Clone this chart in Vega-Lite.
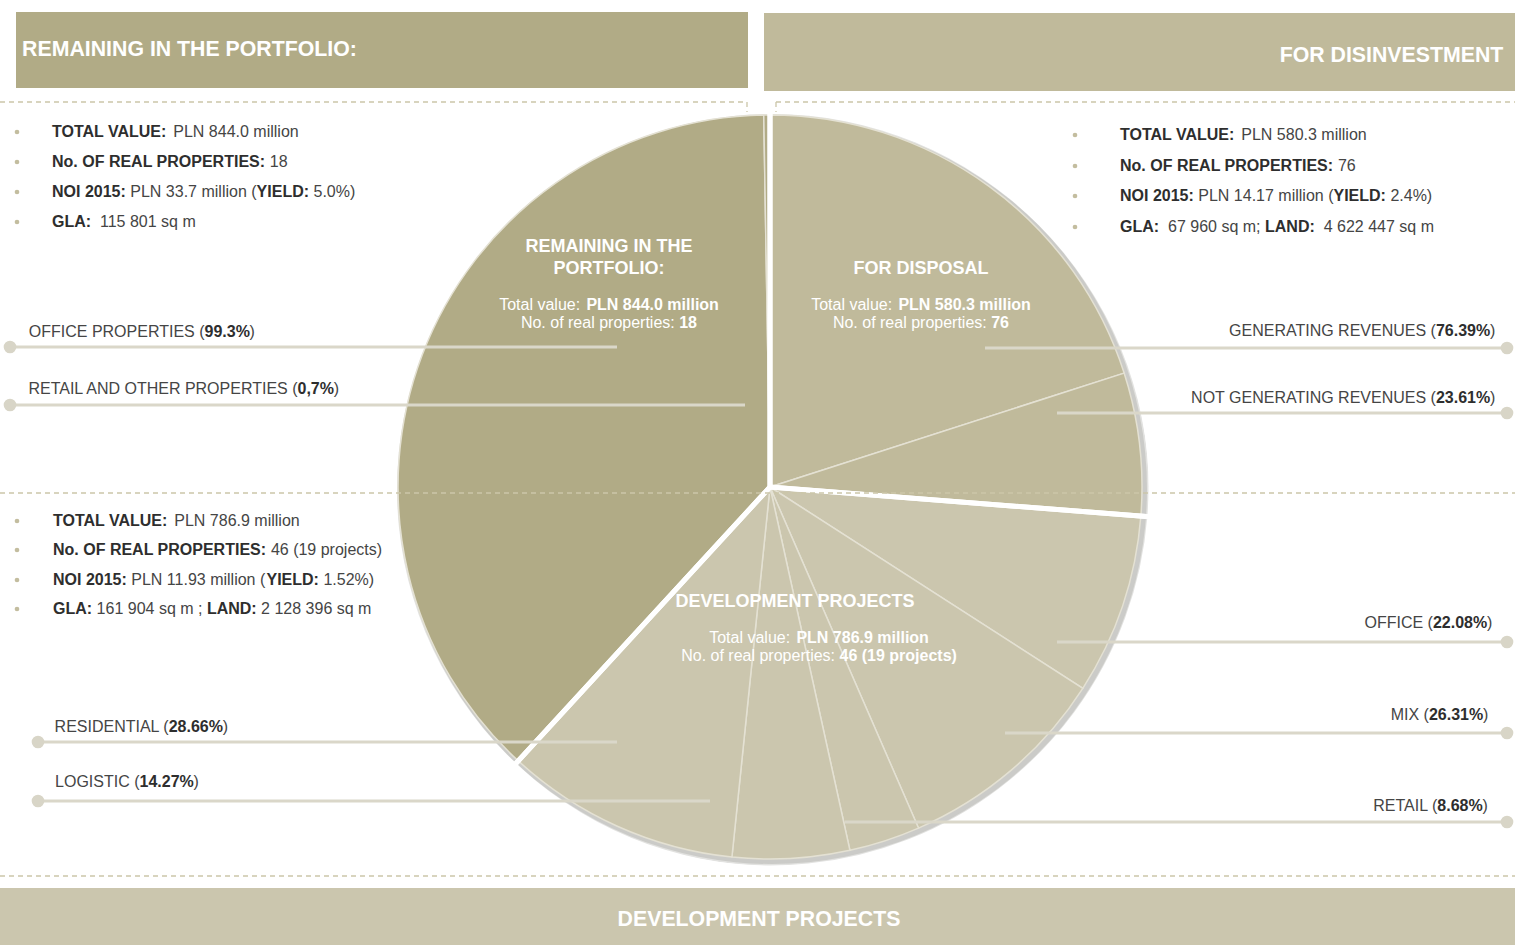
{
  "$schema": "https://vega.github.io/schema/vega-lite/v6.json",
  "width": 1515,
  "height": 945,
  "autosize": {"type": "none"},
  "padding": 0,
  "background": "white",
  "config": {"view": {"stroke": null}, "font": "Liberation Sans", "text": {"font": "Liberation Sans"}},
  "datasets": {
    "bars": [
      {"name": "left", "x": 16, "x2": 748, "y": 12, "y2": 88},
      {"name": "right", "x": 764, "x2": 1515, "y": 13, "y2": 91},
      {"name": "bottom", "x": 0, "x2": 1515, "y": 888, "y2": 945}
    ],
    "dashes": [
      {"x": 0, "x2": 747, "y": 102, "y2": 102},
      {"x": 747, "x2": 747, "y": 102, "y2": 112},
      {"x": 776, "x2": 1515, "y": 102, "y2": 102},
      {"x": 776, "x2": 776, "y": 102, "y2": 112},
      {"x": 0, "x2": 1515, "y": 493, "y2": 493},
      {"x": 0, "x2": 1515, "y": 876, "y2": 876}
    ],
    "shadow": [
      {"cx": 774, "cy": 491, "r": 375},
      {"cx": 772, "cy": 489, "r": 374}
    ],
    "pie": [
      {"group": "For disposal", "cat": "Generating revenues", "pct": 76.39, "value": 443.29, "ord": 1},
      {"group": "For disposal", "cat": "Not generating revenues", "pct": 23.61, "value": 137.01, "ord": 2},
      {"group": "Development projects", "cat": "Office", "pct": 22.08, "value": 173.75, "ord": 3},
      {"group": "Development projects", "cat": "Mix", "pct": 26.31, "value": 207.03, "ord": 4},
      {"group": "Development projects", "cat": "Retail", "pct": 8.68, "value": 68.30, "ord": 5},
      {"group": "Development projects", "cat": "Logistic", "pct": 14.27, "value": 112.29, "ord": 6},
      {"group": "Development projects", "cat": "Residential", "pct": 28.66, "value": 225.53, "ord": 7},
      {"group": "Remaining in the portfolio", "cat": "Office properties", "pct": 99.3, "value": 838.09, "ord": 8},
      {"group": "Remaining in the portfolio", "cat": "Retail and other properties", "pct": 0.7, "value": 5.91, "ord": 9}
    ],
    "leaders": [
      {"x": 10, "x2": 617, "y": 347},
      {"x": 10, "x2": 745, "y": 405},
      {"x": 985, "x2": 1507, "y": 348},
      {"x": 1057, "x2": 1507, "y": 413},
      {"x": 1057, "x2": 1507, "y": 642},
      {"x": 1005, "x2": 1507, "y": 733},
      {"x": 845, "x2": 1507, "y": 822},
      {"x": 38, "x2": 617, "y": 742},
      {"x": 38, "x2": 710, "y": 801}
    ],
    "dots": [
      {"x": 10, "y": 347}, {"x": 10, "y": 405}, {"x": 1507, "y": 348}, {"x": 1507, "y": 413},
      {"x": 1507, "y": 642}, {"x": 1507, "y": 733}, {"x": 1507, "y": 822}, {"x": 38, "y": 742}, {"x": 38, "y": 801}
    ],
    "bullets": [
      {"x": 17, "y": 132}, {"x": 17, "y": 162}, {"x": 17, "y": 192}, {"x": 17, "y": 222},
      {"x": 1075, "y": 135}, {"x": 1075, "y": 166}, {"x": 1075, "y": 196}, {"x": 1075, "y": 227},
      {"x": 17, "y": 521}, {"x": 17, "y": 550}, {"x": 17, "y": 580}, {"x": 17, "y": 609}
    ],
    "texts": [
      {"s": "hd", "t": "REMAINING IN THE PORTFOLIO:", "x": 189.5, "y": 50},
      {"s": "hd", "t": "FOR DISINVESTMENT", "x": 1391.5, "y": 56},
      {"s": "hd", "t": "DEVELOPMENT PROJECTS", "x": 759, "y": 920},
      {"s": "pt", "t": "REMAINING IN THE", "x": 609, "y": 247},
      {"s": "pt", "t": "PORTFOLIO:", "x": 609, "y": 269},
      {"s": "pt", "t": "FOR DISPOSAL", "x": 921, "y": 269},
      {"s": "pt", "t": "DEVELOPMENT PROJECTS", "x": 795, "y": 602},
      {"s": "pn", "t": "Total value:", "x": 499.2, "y": 305},
      {"s": "pn", "t": "No. of real properties:", "x": 520.9, "y": 323},
      {"s": "pn", "t": "Total value:", "x": 811.2, "y": 305},
      {"s": "pn", "t": "No. of real properties:", "x": 832.9, "y": 323},
      {"s": "pn", "t": "Total value:", "x": 709.2, "y": 638},
      {"s": "pn", "t": "No. of real properties:", "x": 681.2, "y": 656},
      {"s": "pb", "t": "PLN 844.0 million", "x": 586.4, "y": 305},
      {"s": "pb", "t": "18", "x": 679.2, "y": 323},
      {"s": "pb", "t": "PLN 580.3 million", "x": 898.4, "y": 305},
      {"s": "pb", "t": "76", "x": 991.2, "y": 323},
      {"s": "pb", "t": "PLN 786.9 million", "x": 796.4, "y": 638},
      {"s": "pb", "t": "46 (19 projects)", "x": 839.5, "y": 656},

      {"s": "db", "t": "TOTAL VALUE:", "x": 52, "y": 132},
      {"s": "dn", "t": "PLN 844.0 million", "x": 173.3, "y": 132},
      {"s": "db", "t": "No. OF REAL PROPERTIES:", "x": 52, "y": 162},
      {"s": "dn", "t": "18", "x": 269.8, "y": 162},
      {"s": "db", "t": "NOI 2015:", "x": 52, "y": 192},
      {"s": "dn", "t": "PLN 33.7 million (", "x": 130.3, "y": 192},
      {"s": "db", "t": "YIELD:", "x": 256.6, "y": 192},
      {"s": "dn", "t": "5.0%)", "x": 313.5, "y": 192},
      {"s": "db", "t": "GLA:", "x": 52, "y": 222},
      {"s": "dn", "t": "115 801 sq m", "x": 100, "y": 222},

      {"s": "db", "t": "TOTAL VALUE:", "x": 1120, "y": 135},
      {"s": "dn", "t": "PLN 580.3 million", "x": 1241.3, "y": 135},
      {"s": "db", "t": "No. OF REAL PROPERTIES:", "x": 1120, "y": 166},
      {"s": "dn", "t": "76", "x": 1337.9, "y": 166},
      {"s": "db", "t": "NOI 2015:", "x": 1120, "y": 196},
      {"s": "dn", "t": "PLN 14.17 million (", "x": 1198.3, "y": 196},
      {"s": "db", "t": "YIELD:", "x": 1333.5, "y": 196},
      {"s": "dn", "t": "2.4%)", "x": 1390.4, "y": 196},
      {"s": "db", "t": "GLA:", "x": 1120, "y": 227},
      {"s": "dn", "t": "67 960 sq m;", "x": 1168, "y": 227},
      {"s": "db", "t": "LAND:", "x": 1265, "y": 227},
      {"s": "dn", "t": "4 622 447 sq m", "x": 1323.7, "y": 227},

      {"s": "db", "t": "TOTAL VALUE:", "x": 53, "y": 521},
      {"s": "dn", "t": "PLN 786.9 million", "x": 174.3, "y": 521},
      {"s": "db", "t": "No. OF REAL PROPERTIES:", "x": 53, "y": 550},
      {"s": "dn", "t": "46 (19 projects)", "x": 270.9, "y": 550},
      {"s": "db", "t": "NOI 2015:", "x": 53, "y": 580},
      {"s": "dn", "t": "PLN 11.93 million (", "x": 131.3, "y": 580},
      {"s": "db", "t": "YIELD:", "x": 266.5, "y": 580},
      {"s": "dn", "t": "1.52%)", "x": 323.4, "y": 580},
      {"s": "db", "t": "GLA:", "x": 53, "y": 609},
      {"s": "dn", "t": "161 904 sq m ;", "x": 96.6, "y": 609},
      {"s": "db", "t": "LAND:", "x": 206.9, "y": 609},
      {"s": "dn", "t": "2 128 396 sq m", "x": 261.1, "y": 609},

      {"s": "dnr", "t": "OFFICE PROPERTIES (", "x": 204.5, "y": 332},
      {"s": "db", "t": "99.3%", "x": 204.5, "y": 332},
      {"s": "dn", "t": ")", "x": 249.6, "y": 332},
      {"s": "dnr", "t": "RETAIL AND OTHER PROPERTIES (", "x": 297.5, "y": 389},
      {"s": "db", "t": "0,7%", "x": 297.5, "y": 389},
      {"s": "dn", "t": ")", "x": 333.7, "y": 389},
      {"s": "dnr", "t": "GENERATING REVENUES (", "x": 1435.9, "y": 331},
      {"s": "db", "t": "76.39%", "x": 1435.9, "y": 331},
      {"s": "dn", "t": ")", "x": 1489.9, "y": 331},
      {"s": "dnr", "t": "NOT GENERATING REVENUES (", "x": 1435.9, "y": 398},
      {"s": "db", "t": "23.61%", "x": 1435.9, "y": 398},
      {"s": "dn", "t": ")", "x": 1489.9, "y": 398},
      {"s": "dnr", "t": "OFFICE (", "x": 1432.9, "y": 623},
      {"s": "db", "t": "22.08%", "x": 1432.9, "y": 623},
      {"s": "dn", "t": ")", "x": 1486.9, "y": 623},
      {"s": "dnr", "t": "MIX (", "x": 1428.9, "y": 715},
      {"s": "db", "t": "26.31%", "x": 1428.9, "y": 715},
      {"s": "dn", "t": ")", "x": 1482.9, "y": 715},
      {"s": "dnr", "t": "RETAIL (", "x": 1437.3, "y": 806},
      {"s": "db", "t": "8.68%", "x": 1437.3, "y": 806},
      {"s": "dn", "t": ")", "x": 1482.4, "y": 806},
      {"s": "dnr", "t": "RESIDENTIAL (", "x": 168.7, "y": 727},
      {"s": "db", "t": "28.66%", "x": 168.7, "y": 727},
      {"s": "dn", "t": ")", "x": 222.7, "y": 727},
      {"s": "dnr", "t": "LOGISTIC (", "x": 139.5, "y": 782},
      {"s": "db", "t": "14.27%", "x": 139.5, "y": 782},
      {"s": "dn", "t": ")", "x": 193.5, "y": 782}
    ]
  },
  "layer": [
    {
      "data": {"name": "bars"},
      "mark": {"type": "rect"},
      "encoding": {
        "x": {"field": "x", "type": "quantitative", "scale": {"domain": [0, 1515], "nice": false}, "axis": null},
        "x2": {"field": "x2"},
        "y": {"field": "y", "type": "quantitative", "scale": {"domain": [0, 945], "nice": false, "reverse": true}, "axis": null},
        "y2": {"field": "y2"},
        "color": {"field": "name", "type": "nominal", "scale": {"domain": ["left", "right", "bottom"], "range": ["#b1ab86", "#c0ba9b", "#cbc6ae"]}, "legend": null}
      }
    },
    {
      "data": {"name": "shadow"},
      "mark": {"type": "arc", "outerRadius": 375, "theta": 0, "theta2": 6.2832, "color": "#7c7c74", "opacity": 0.22},
      "encoding": {
        "x": {"field": "cx", "type": "quantitative", "scale": {"domain": [0, 1515], "nice": false}, "axis": null},
        "y": {"field": "cy", "type": "quantitative", "scale": {"domain": [0, 945], "nice": false, "reverse": true}, "axis": null}
      }
    },
    {
      "data": {"name": "pie"},
      "mark": {"type": "arc", "outerRadius": 372, "stroke": "#e4e1d3", "strokeWidth": 1.5},
      "encoding": {
        "x": {"datum": 770, "type": "quantitative", "scale": {"domain": [0, 1515], "nice": false}, "axis": null},
        "y": {"datum": 487, "type": "quantitative", "scale": {"domain": [0, 945], "nice": false, "reverse": true}, "axis": null},
        "theta": {"field": "value", "type": "quantitative", "stack": true},
        "order": {"field": "ord", "type": "quantitative"},
        "color": {"field": "group", "type": "nominal", "scale": {"domain": ["Remaining in the portfolio", "For disposal", "Development projects"], "range": ["#afa983", "#c0b998", "#ccc6ae"]}, "legend": null}
      }
    },
    {
      "data": {"name": "pie"},
      "transform": [
        {"aggregate": [{"op": "sum", "field": "value", "as": "total"}, {"op": "min", "field": "ord", "as": "ord"}], "groupby": ["group"]}
      ],
      "mark": {"type": "arc", "outerRadius": 381, "filled": false, "stroke": "white", "strokeWidth": 5},
      "encoding": {
        "x": {"datum": 770, "type": "quantitative", "scale": {"domain": [0, 1515], "nice": false}, "axis": null},
        "y": {"datum": 487, "type": "quantitative", "scale": {"domain": [0, 945], "nice": false, "reverse": true}, "axis": null},
        "theta": {"field": "total", "type": "quantitative", "stack": true},
        "order": {"field": "ord", "type": "quantitative"}
      }
    },
    {
      "data": {"name": "dashes"},
      "mark": {"type": "rule", "color": "#cbc6a9", "strokeWidth": 1.3, "strokeDash": [5, 4]},
      "encoding": {
        "x": {"field": "x", "type": "quantitative", "scale": {"domain": [0, 1515], "nice": false}, "axis": null},
        "x2": {"field": "x2"},
        "y": {"field": "y", "type": "quantitative", "scale": {"domain": [0, 945], "nice": false, "reverse": true}, "axis": null},
        "y2": {"field": "y2"}
      }
    },
    {
      "data": {"name": "leaders"},
      "mark": {"type": "rule", "color": "#dad7c9", "strokeWidth": 3},
      "encoding": {
        "x": {"field": "x", "type": "quantitative", "scale": {"domain": [0, 1515], "nice": false}, "axis": null},
        "x2": {"field": "x2"},
        "y": {"field": "y", "type": "quantitative", "scale": {"domain": [0, 945], "nice": false, "reverse": true}, "axis": null}
      }
    },
    {
      "data": {"name": "dots"},
      "mark": {"type": "point", "shape": "circle", "filled": true, "size": 160, "color": "#d8d5c7", "opacity": 1},
      "encoding": {
        "x": {"field": "x", "type": "quantitative", "scale": {"domain": [0, 1515], "nice": false}, "axis": null},
        "y": {"field": "y", "type": "quantitative", "scale": {"domain": [0, 945], "nice": false, "reverse": true}, "axis": null}
      }
    },
    {
      "data": {"name": "bullets"},
      "mark": {"type": "point", "shape": "circle", "filled": true, "size": 22, "color": "#c3bd9f", "opacity": 1},
      "encoding": {
        "x": {"field": "x", "type": "quantitative", "scale": {"domain": [0, 1515], "nice": false}, "axis": null},
        "y": {"field": "y", "type": "quantitative", "scale": {"domain": [0, 945], "nice": false, "reverse": true}, "axis": null}
      }
    },
    {
      "data": {"name": "texts"},
      "transform": [{"filter": "datum.s == 'hd'"}],
      "mark": {"type": "text", "font": "Liberation Sans", "fontSize": 21.3, "fontWeight": "bold", "color": "white", "align": "center", "baseline": "middle"},
      "encoding": {
        "x": {"field": "x", "type": "quantitative", "scale": {"domain": [0, 1515], "nice": false}, "axis": null},
        "y": {"field": "y", "type": "quantitative", "scale": {"domain": [0, 945], "nice": false, "reverse": true}, "axis": null},
        "text": {"field": "t"}
      }
    },
    {
      "data": {"name": "texts"},
      "transform": [{"filter": "datum.s == 'pt'"}],
      "mark": {"type": "text", "font": "Liberation Sans", "fontSize": 18, "fontWeight": "bold", "color": "white", "align": "center", "baseline": "middle"},
      "encoding": {
        "x": {"field": "x", "type": "quantitative", "scale": {"domain": [0, 1515], "nice": false}, "axis": null},
        "y": {"field": "y", "type": "quantitative", "scale": {"domain": [0, 945], "nice": false, "reverse": true}, "axis": null},
        "text": {"field": "t"}
      }
    },
    {
      "data": {"name": "texts"},
      "transform": [{"filter": "datum.s == 'pn'"}],
      "mark": {"type": "text", "font": "Liberation Sans", "fontSize": 16, "color": "white", "align": "left", "baseline": "middle"},
      "encoding": {
        "x": {"field": "x", "type": "quantitative", "scale": {"domain": [0, 1515], "nice": false}, "axis": null},
        "y": {"field": "y", "type": "quantitative", "scale": {"domain": [0, 945], "nice": false, "reverse": true}, "axis": null},
        "text": {"field": "t"}
      }
    },
    {
      "data": {"name": "texts"},
      "transform": [{"filter": "datum.s == 'pb'"}],
      "mark": {"type": "text", "font": "Liberation Sans", "fontSize": 16, "fontWeight": "bold", "color": "white", "align": "left", "baseline": "middle"},
      "encoding": {
        "x": {"field": "x", "type": "quantitative", "scale": {"domain": [0, 1515], "nice": false}, "axis": null},
        "y": {"field": "y", "type": "quantitative", "scale": {"domain": [0, 945], "nice": false, "reverse": true}, "axis": null},
        "text": {"field": "t"}
      }
    },
    {
      "data": {"name": "texts"},
      "transform": [{"filter": "datum.s == 'dn'"}],
      "mark": {"type": "text", "font": "Liberation Sans", "fontSize": 16, "color": "#454545", "align": "left", "baseline": "middle"},
      "encoding": {
        "x": {"field": "x", "type": "quantitative", "scale": {"domain": [0, 1515], "nice": false}, "axis": null},
        "y": {"field": "y", "type": "quantitative", "scale": {"domain": [0, 945], "nice": false, "reverse": true}, "axis": null},
        "text": {"field": "t"}
      }
    },
    {
      "data": {"name": "texts"},
      "transform": [{"filter": "datum.s == 'dnr'"}],
      "mark": {"type": "text", "font": "Liberation Sans", "fontSize": 16, "color": "#454545", "align": "right", "baseline": "middle"},
      "encoding": {
        "x": {"field": "x", "type": "quantitative", "scale": {"domain": [0, 1515], "nice": false}, "axis": null},
        "y": {"field": "y", "type": "quantitative", "scale": {"domain": [0, 945], "nice": false, "reverse": true}, "axis": null},
        "text": {"field": "t"}
      }
    },
    {
      "data": {"name": "texts"},
      "transform": [{"filter": "datum.s == 'db'"}],
      "mark": {"type": "text", "font": "Liberation Sans", "fontSize": 16, "fontWeight": "bold", "color": "#2e2e2e", "align": "left", "baseline": "middle"},
      "encoding": {
        "x": {"field": "x", "type": "quantitative", "scale": {"domain": [0, 1515], "nice": false}, "axis": null},
        "y": {"field": "y", "type": "quantitative", "scale": {"domain": [0, 945], "nice": false, "reverse": true}, "axis": null},
        "text": {"field": "t"}
      }
    }
  ]
}
